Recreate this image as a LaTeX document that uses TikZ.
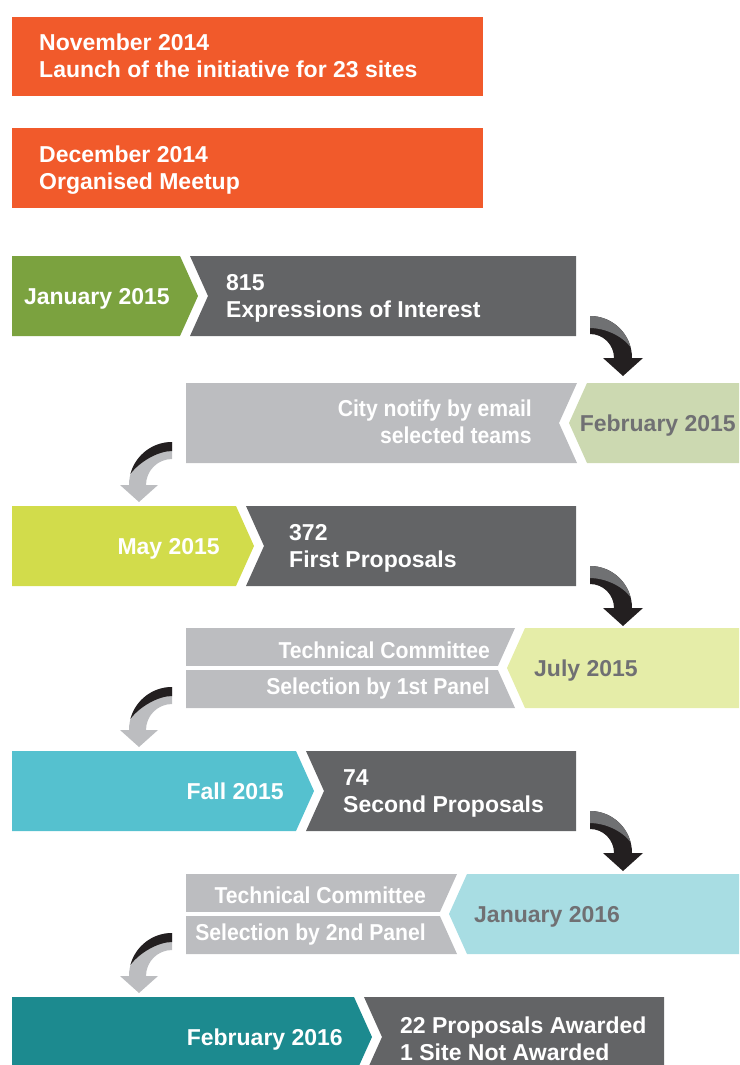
\documentclass[tikz,border=0pt]{standalone}
\usepackage{fontspec}
\setmainfont{Liberation Sans}
\newfontfamily\narrowfont{Liberation Sans}[FakeStretch=0.92]
\usepackage{tikz}

\definecolor{launch}{HTML}{F15A2B}
\definecolor{darkbar}{HTML}{636466}
\definecolor{lightbar}{HTML}{BCBDC0}
\definecolor{datetext}{HTML}{707073}
\definecolor{jan15}{HTML}{7BA23F}
\definecolor{feb15}{HTML}{CCD9B1}
\definecolor{may15}{HTML}{D2DC4B}
\definecolor{jul15}{HTML}{E5EDA8}
\definecolor{fall15}{HTML}{55C1CF}
\definecolor{jan16}{HTML}{A8DDE3}
\definecolor{feb16}{HTML}{1C8A8F}
\definecolor{arrblack}{HTML}{231F20}
\definecolor{arrgray}{HTML}{707173}

\tikzstyle{txt} = [font=\fontsize{23}{27}\selectfont\bfseries, inner sep=0pt, text=white]
\tikzstyle{narrowtxt} = [txt, font=\narrowfont\fontsize{23}{27}\selectfont\bfseries]
\tikzstyle{dimtxt} = [txt, text=datetext]

% curved arrow on the right, #1 = centre of the bend
\newcommand{\bendright}[1]{%
	\fill[arrblack] ([shift={(0,-42)}]#1) arc[start angle=-90,end angle=0,radius=42] -- ++(11,0) -- ++(-20,18) -- ++(-20,-18) -- ++(11,0) arc[start angle=0,end angle=-90,radius=24] -- cycle;
	\fill[arrgray] ([shift={(0,-42)}]#1) arc[start angle=-90,end angle=-15,radius=42] .. controls +(-9,-12) and +(14,0) .. ([shift={(0,-30)}]#1) -- cycle;
}
% curved arrow on the left
\newcommand{\bendleft}[1]{%
	\fill[lightbar] ([shift={(0,-43)}]#1) arc[start angle=-90,end angle=-180,radius=43] -- ++(-9,0) -- ++(19,17) -- ++(19,-17) -- ++(-12,0) arc[start angle=-180,end angle=-90,radius=26] -- cycle;
	\fill[arrblack] ([shift={(0,-43)}]#1) arc[start angle=-90,end angle=-165,radius=43] .. controls +(9,-12) and +(-14,0) .. ([shift={(0,-34)}]#1) -- cycle;
}

\begin{document}
\begin{tikzpicture}[x=1pt, y=-1pt]
	\useasboundingbox (0,0) rectangle (739,1065);
	\clip (0,0) rectangle (739,1065);
	
	% 2014
	\fill[launch] (12,17) rectangle (483,96);
	\node[txt, anchor=west, align=left] (nov) at (39,56) {November 2014\\Launch of the initiative for 23 sites};
	\fill[launch] (12,128) rectangle (483,208);
	\node[txt, anchor=west, align=left] (dec) at (39,170) {December 2014\\Organised Meetup};
	
	% January 2015
	\fill[jan15] (12,256) -- (180,256) -- (198,296) -- (180,336) -- (12,336) -- cycle;
	\fill[darkbar] (190,256) -- (576,256) -- (576,336) -- (190,336) -- (208,296) -- cycle;
	\node[txt, anchor=base east] (jan) at (170,304) {January 2015};
	\node[txt, anchor=west, align=left] (eoi) at (226,298) {815\\Expressions of Interest};
	\coordinate (r1) at (590,358);
	\bendright{r1}
	
	% February 2015
	\fill[lightbar] (186,383) -- (577,383) -- (559,423) -- (577,463) -- (186,463) -- cycle;
	\fill[feb15] (587,383) -- (739,383) -- (739,463) -- (587,463) -- (569,423) -- cycle;
	\node[narrowtxt, anchor=east, align=right] (notify) at (532,422) {City notify by email\\selected teams};
	\node[dimtxt, anchor=base east] (feb) at (736,431) {February 2015};
	\coordinate (l1) at (172,485);
	\bendleft{l1}
	
	% May 2015
	\fill[may15] (12,506) -- (236,506) -- (254,546) -- (236,586) -- (12,586) -- cycle;
	\fill[darkbar] (246,506) -- (576,506) -- (576,586) -- (246,586) -- (264,546) -- cycle;
	\node[txt, anchor=base east] (may) at (220,554) {May 2015};
	\node[txt, anchor=west, align=left] (first) at (289,548) {372\\First Proposals};
	\coordinate (r2) at (590,608);
	\bendright{r2}
	
	% July 2015
	\fill[lightbar] (186,628) -- (515,628) -- (497,668) -- (515,708) -- (186,708) -- cycle;
	\draw[white, line width=4pt] (186,668) -- (505,668);
	\fill[jul15] (525,628) -- (739,628) -- (739,708) -- (525,708) -- (507,668) -- cycle;
	\node[narrowtxt, anchor=base east] (tech1) at (490,658) {Technical Committee};
	\node[narrowtxt, anchor=base east] (panel1) at (490,694) {Selection by 1st Panel};
	\node[dimtxt, anchor=base west] (jul) at (534,676) {July 2015};
	\coordinate (l2) at (172,730);
	\bendleft{l2}
	
	% Fall 2015
	\fill[fall15] (12,751) -- (296,751) -- (314,791) -- (296,831) -- (12,831) -- cycle;
	\fill[darkbar] (306,751) -- (576,751) -- (576,831) -- (306,831) -- (324,791) -- cycle;
	\node[txt, anchor=base east] (fall) at (284,799) {Fall 2015};
	\node[txt, anchor=west, align=left] (second) at (343,793) {74\\Second Proposals};
	\coordinate (r3) at (590,853);
	\bendright{r3}
	
	% January 2016
	\fill[lightbar] (186,874) -- (457,874) -- (439,914) -- (457,954) -- (186,954) -- cycle;
	\draw[white, line width=4pt] (186,914) -- (447,914);
	\fill[jan16] (467,874) -- (739,874) -- (739,954) -- (467,954) -- (449,914) -- cycle;
	\node[narrowtxt, anchor=base east] (tech2) at (426,903) {Technical Committee};
	\node[narrowtxt, anchor=base east] (panel2) at (426,940) {Selection by 2nd Panel};
	\node[dimtxt, anchor=base west] (jan2) at (474,922) {January 2016};
	\coordinate (l3) at (172,976);
	\bendleft{l3}
	
	% February 2016
	\fill[feb16] (12,997) -- (354,997) -- (372,1037) -- (354,1077) -- (12,1077) -- cycle;
	\fill[darkbar] (364,997) -- (664,997) -- (664,1077) -- (364,1077) -- (382,1037) -- cycle;
	\node[txt, anchor=base east] (feb2) at (343,1045) {February 2016};
	\node[txt, anchor=west, align=left] (award) at (400,1039) {22 Proposals Awarded\\1 Site Not Awarded};
\end{tikzpicture}
\end{document}
